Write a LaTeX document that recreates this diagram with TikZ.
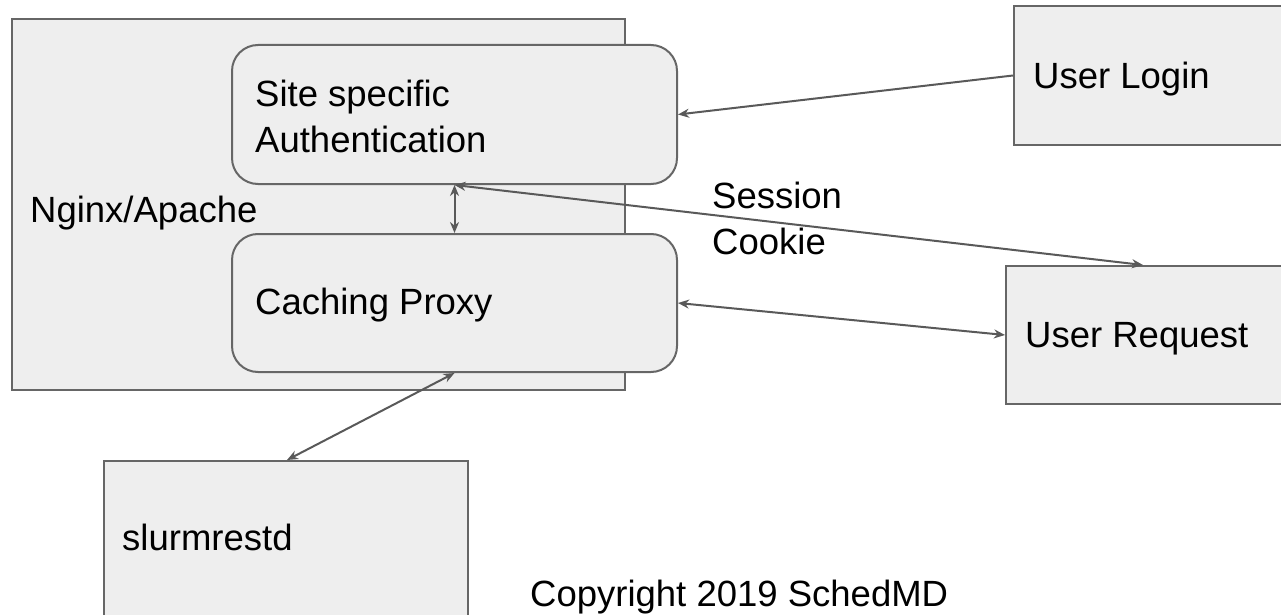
\documentclass[tikz,border=0pt]{standalone}
\usepackage{fontspec}
\setmainfont{Liberation Sans}
\usetikzlibrary{arrows.meta}
\definecolor{boxfill}{HTML}{EEEEEE}
\definecolor{boxline}{HTML}{666666}
\definecolor{arrowc}{HTML}{595959}
\begin{document}
\begin{tikzpicture}[x=1pt,y=-1pt,
  sqbox/.style={draw=boxline,fill=boxfill,line width=2pt,rectangle,anchor=north west,inner sep=0pt},
  rbox/.style={sqbox,rounded corners=26pt},
  lbl/.style={anchor=base west,inner sep=0pt,font=\fontsize{36.5}{46}\selectfont,text=black,align=left},
  conn/.style={draw=arrowc,line width=2pt,{Stealth[length=11pt,width=9pt]}-{Stealth[length=11pt,width=9pt]}},
  oneway/.style={draw=arrowc,line width=2pt,-{Stealth[length=11pt,width=9pt]}}]
\useasboundingbox (0,0) rectangle (1281,615);
% boxes
\node[sqbox,minimum width=613pt,minimum height=371pt] (nginx) at (11,18) {};
\node[rbox,minimum width=445pt,minimum height=139pt] (auth) at (231,44) {};
\node[rbox,minimum width=445pt,minimum height=138pt] (proxy) at (231,233) {};
\node[sqbox,minimum width=290pt,minimum height=139pt] (login) at (1013,5) {};
\node[sqbox,minimum width=300pt,minimum height=138pt] (request) at (1005,265) {};
\node[sqbox,minimum width=364pt,minimum height=180pt] (slurm) at (103,460) {};
% texts (base anchor = baseline of last line)
\node[lbl] (tnginx) at (30,222) {Nginx/Apache};
\node[lbl] (tauth) at (255,152) {Site specific\\Authentication};
\node[lbl] (tproxy) at (255,314) {Caching Proxy};
\node[lbl] (tlogin) at (1033,89) {User Login};
\node[lbl] (treq) at (1025,347) {User Request};
\node[lbl] (tsess) at (712,254) {Session\\Cookie};
\node[lbl] (tslurm) at (122,550) {slurmrestd};
\node[lbl] (tcopy) at (530,606) {Copyright 2019 SchedMD};
% connectors
\coordinate (reqtop) at ([xshift=138pt]request.north west);
\coordinate (slurmtop) at ([xshift=184pt]slurm.north west);
\draw[oneway] (login.west) -- (auth.east);
\draw[conn] (auth.south) -- (proxy.north);
\draw[conn] (auth.south) -- (reqtop);
\draw[conn] (proxy.east) -- (request.west);
\draw[conn] (proxy.south) -- (slurmtop);
\end{tikzpicture}
\end{document}
